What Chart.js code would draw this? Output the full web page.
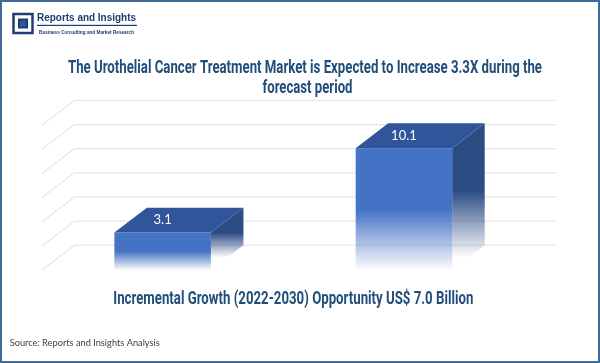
<!DOCTYPE html>
<html lang="en">
<head>
    <meta charset="UTF-8">
    <title>Urothelial Cancer Treatment Market</title>
    <script src="https://cdn.jsdelivr.net/npm/chart.js@4.4.1/dist/chart.umd.min.js"></script>
    <style>
        html, body { margin: 0; padding: 0; background: #fff; }
        #wrap { position: relative; width: 600px; height: 363px; }
        #myChart { position: absolute; left: 0; top: 0; }
        #border { position: absolute; left: 0; top: 0; width: 600px; height: 363px; box-sizing: border-box;
                  border: 2px solid #3d6a96; pointer-events: none; }
    </style>
</head>
<body>
<div id="wrap">
    <canvas id="myChart" width="600" height="363"></canvas>
    <div id="border"></div>
</div>

<script>
    // ------------------------------------------------------------------ data
    var years = ['2022', '2030']
    var marketSize = [3.1, 10.1]
    var gridTicks = [0, 2, 4, 6, 8, 10, 12]

    var titleLines = ['The Urothelial Cancer Treatment Market is Expected to Increase 3.3X during the', 'forecast period']
    var growthText = 'Incremental Growth (2022-2030) Opportunity US$ 7.0 Billion'
    var sourceText = 'Source: Reports and Insights Analysis'

    // depth of the fake 3d look
    var DX = 32.5
    var DY = 24.8
    var navy = '#1f4e79'
    var condensed = 'bold 18px Roboto, "DejaVu Sans", sans-serif'

    // draw a text squeezed to a given width (the original font is a condensed one)
    var fitText = function (ctx, text, x, y, width, font, color, align) {
      ctx.save()
      ctx.font = font
      ctx.fillStyle = color
      ctx.textBaseline = 'alphabetic'
      ctx.textAlign = align || 'center'
      var m = ctx.measureText(text).width
      ctx.translate(x, y)
      ctx.scale(width / m, 1)
      ctx.fillText(text, 0, 0)
      ctx.restore()
    }

    var frontColor = function (context) {
      var chart = context.chart
      if (!chart.chartArea || !chart.scales.y) return '#4472c4'
      var y = chart.scales.y
      var top = y.getPixelForValue(context.raw)
      var base = y.getPixelForValue(0)
      var g = chart.ctx.createLinearGradient(0, top, 0, base)
      g.addColorStop(0, '#4472c4')
      g.addColorStop(0.5, '#4472c4')
      g.addColorStop(1, 'rgba(68, 114, 196, 0.02)')
      return g
    }

    var bars3d = {
      id: 'bars3d',
      beforeDatasetsDraw: function (chart) {
        var ctx = chart.ctx
        var area = chart.chartArea
        var y = chart.scales.y
        ctx.save()
        ctx.strokeStyle = '#e8e8e8'
        ctx.lineWidth = 1.3
        gridTicks.forEach(function (v) {
          var py = y.getPixelForValue(v)
          ctx.beginPath()
          ctx.moveTo(area.left, py)
          ctx.lineTo(area.left + DX, py - DY)
          ctx.lineTo(area.right + DX, py - DY)
          ctx.stroke()
        })
        ctx.restore()
      },
      afterDatasetsDraw: function (chart) {
        var ctx = chart.ctx
        var meta = chart.getDatasetMeta(0)
        ctx.save()
        meta.data.forEach(function (bar, i) {
          var l = bar.x - bar.width / 2
          var r = bar.x + bar.width / 2
          var top = bar.y
          var base = bar.base

          // side face
          var sg = ctx.createLinearGradient(0, top - DY, 0, base - DY * 0.5)
          sg.addColorStop(0, '#2c4c84')
          sg.addColorStop(0.5, '#2c4c84')
          sg.addColorStop(1, 'rgba(44, 76, 132, 0)')
          ctx.fillStyle = sg
          ctx.beginPath()
          ctx.moveTo(r, top)
          ctx.lineTo(r + DX, top - DY)
          ctx.lineTo(r + DX, base - DY)
          ctx.lineTo(r, base)
          ctx.closePath()
          ctx.fill()

          // top face
          ctx.fillStyle = '#30559a'
          ctx.beginPath()
          ctx.moveTo(l, top)
          ctx.lineTo(l + DX, top - DY)
          ctx.lineTo(r + DX, top - DY)
          ctx.lineTo(r, top)
          ctx.closePath()
          ctx.fill()

          // value label
          ctx.fillStyle = '#ffffff'
          ctx.font = '13px Lato, "Open Sans", sans-serif'
          ctx.textAlign = 'center'
          ctx.textBaseline = 'middle'
          ctx.fillText(marketSize[i].toFixed(1), bar.x, top - DY / 2)
        })
        ctx.restore()
      }
    }

    var texts = {
      id: 'texts',
      afterDraw: function (chart) {
        var ctx = chart.ctx
        // logo
        ctx.save()
        ctx.strokeStyle = '#1f3d73'
        ctx.lineWidth = 2.5
        ctx.strokeRect(13.5, 14, 19, 19)
        ctx.fillStyle = '#1f3d73'
        ctx.fillRect(18, 18.5, 10, 10)
        ctx.fillStyle = '#2d5a94'
        ctx.fillRect(20, 20.5, 6, 6)
        ctx.fillStyle = '#1f3d73'
        ctx.fillRect(37, 24.8, 100, 1.2)
        ctx.restore()
        fitText(ctx, 'Reports and Insights', 37, 21, 99, 'bold 10px "Liberation Sans", Arial, sans-serif', '#1f3d73', 'left')
        fitText(ctx, 'Business Consulting and Market Research', 39, 33.8, 95, 'bold 5px "Liberation Sans", Arial, sans-serif', '#1f3d73', 'left')

        // title and notes
        fitText(ctx, titleLines[0], 305, 73.3, 474, condensed, navy)
        fitText(ctx, titleLines[1], 307.5, 93.3, 90, condensed, navy)
        fitText(ctx, growthText, 293.3, 304, 360, 'bold 19px Roboto, "DejaVu Sans", sans-serif', navy)
        fitText(ctx, sourceText, 9.7, 345.5, 150, '8.5px Lato, "Open Sans", sans-serif', '#404040', 'left')
      }
    }

    var ctx = document.getElementById('myChart').getContext('2d')
    var myChart = new Chart(ctx, {
      type: 'bar',
      data: {
        labels: years,
        datasets: [{
          data: marketSize,
          backgroundColor: frontColor,
          borderWidth: 0,
          barPercentage: 0.4,
          categoryPercentage: 1
        }]
      },
      options: {
        responsive: false,
        animation: false,
        layout: { padding: { left: 42, right: 75.4, top: 125.2, bottom: 93 } },
        plugins: { legend: { display: false }, tooltip: { enabled: false } },
        scales: {
          x: { display: false },
          y: { display: false, min: 0, max: 12 }
        }
      },
      plugins: [bars3d, texts]
    })
</script>
</body>
</html>
